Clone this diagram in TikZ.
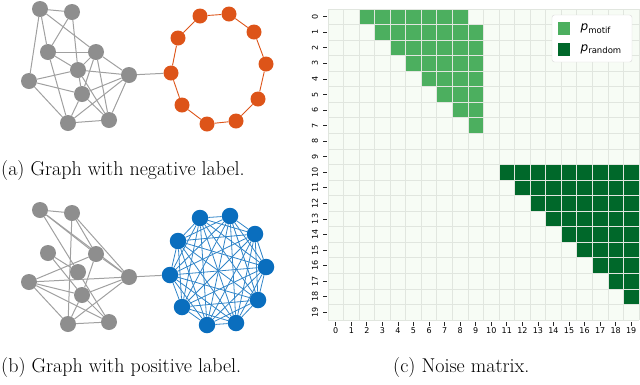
\documentclass[tikz,border=0pt]{standalone}
\usepackage{fontspec}
\newfontfamily\dejavu{DejaVu Sans}
\usetikzlibrary{positioning,backgrounds}
\definecolor{noisebg}{HTML}{F7FCF5}
\definecolor{motifgreen}{HTML}{4CAF5F}
\definecolor{randgreen}{HTML}{00682A}
\definecolor{cellline}{HTML}{E1E6DF}
\definecolor{negorange}{HTML}{DD5419}
\definecolor{posblue}{HTML}{0A6EBE}
\definecolor{nodegray}{HTML}{8E8E8E}
\definecolor{edgegray}{HTML}{A0A0A0}
\def\cs{15.55}

\begin{document}
\begin{tikzpicture}[x=1pt,y=-1pt,
 every node/.style={inner sep=0pt},
 plain/.style={circle,fill=nodegray,minimum size=16pt},
 ring/.style={circle,fill=negorange,minimum size=15pt},
 clique/.style={circle,fill=posblue,minimum size=16.5pt},
 gedge/.style={draw=edgegray,line width=1pt},
 redge/.style={draw=negorange,line width=0.9pt},
 bedge/.style={draw=posblue!85,line width=0.8pt},
 tick/.style={line width=0.8pt,black!85},
 ticklabel/.style={font=\dejavu\fontsize{8}{8}\selectfont},
 caption/.style={font=\fontsize{20}{24}\selectfont}]
 \useasboundingbox (0,0) rectangle (640,384);

 % (a) negative graph
 \foreach \n/\x/\y in {1/40/9,2/72/12,3/48/52,4/96/52,5/78/70,6/29/81,7/129/75,8/82/94,9/68/123,10/109/120}
  \node[plain] (a\n) at (\x,\y) {};
 \foreach \n/\x/\y in {1/171/73,2/178/38,3/200/16,4/229/14,5/254/32,6/266/64,7/258/99,8/236/121,9/207/124,10/182/105}
  \node[ring] (o\n) at (\x,\y) {};
 \begin{pgfonlayer}{background}
 \foreach \u/\v in {1/2,1/6,1/3,1/4,2/3,2/5,3/4,3/5,3/9,4/5,4/7,4/8,4/10,5/6,5/7,5/8,5/10,6/8,6/9,7/8,7/9,7/10,8/9,8/10,9/10}
  \draw[gedge] (a\u) -- (a\v);
 \foreach \u/\v in {1/2,2/3,3/4,4/5,5/6,6/7,7/8,8/9,9/10,10/1}
  \draw[redge] (o\u) -- (o\v);
 \draw[gedge] (a7) -- (o1);
 \end{pgfonlayer}

 % (b) positive graph
 \foreach \n/\x/\y in {1/40/210,2/72/213,3/48/253,4/96/254,5/78/272,6/29/282,7/129/277,8/82/295,9/68/324,10/109/322}
  \node[plain] (h\n) at (\x,\y) {};
 \foreach \n/\x/\y in {1/170/275,2/178/241,3/200/218,4/230/216,5/255/234,6/266/267,7/258/300,8/236/323,9/207/325,10/182/307}
  \node[clique] (b\n) at (\x,\y) {};
 \begin{pgfonlayer}{background}
 \foreach \u/\v in {1/2,1/4,1/7,1/5,2/4,2/7,2/9,3/5,3/8,4/6,4/7,4/8,5/10,6/7,6/8,6/9,6/10,7/8,7/9,8/9,8/10,9/10}
  \draw[gedge] (h\u) -- (h\v);
 \foreach \u in {1,...,9}{
  \pgfmathtruncatemacro\w{\u+1}
  \foreach \v in {\w,...,10}
   \draw[bedge] (b\u) -- (b\v);
 }
 \draw[gedge] (h7) -- (b1);
 \end{pgfonlayer}

 % (c) noise matrix
 \fill[noisebg] (328,9) rectangle (639,320);
 \foreach \r in {0,...,7}{
  \pgfmathtruncatemacro\first{\r+2}
  \pgfmathtruncatemacro\last{\r==0 ? 8 : 9}
  \foreach \c in {\first,...,\last}
   \fill[motifgreen] ({328+\c*\cs},{9+\r*\cs}) rectangle ++(\cs,\cs);
 }
 \foreach \r in {10,...,18}{
  \pgfmathtruncatemacro\first{\r+1}
  \foreach \c in {\first,...,19}
   \fill[randgreen] ({328+\c*\cs},{9+\r*\cs}) rectangle ++(\cs,\cs);
 }
 \foreach \i in {0,...,20}{
  \draw[cellline,line width=0.8pt] ({328+\i*\cs},9) -- ({328+\i*\cs},320);
  \draw[cellline,line width=0.8pt] (328,{9+\i*\cs}) -- (639,{9+\i*\cs});
 }
 \foreach \i in {0,...,19}{
  \draw[tick] (323,{9+(\i+.5)*\cs}) -- (327,{9+(\i+.5)*\cs});
  \node[ticklabel,rotate=90] (yl\i) at (315,{9+(\i+.5)*\cs}) {\i};
  \draw[tick] ({328+(\i+.5)*\cs},322) -- ({328+(\i+.5)*\cs},326);
  \node[ticklabel] (xl\i) at ({328+(\i+.5)*\cs},331) {\i};
 }

 % legend
 \node[draw=black!15,fill=white,rounded corners=2.5pt,minimum width=80pt,minimum height=47pt] (legend) at (592,38.5) {};
 \node[fill=motifgreen,minimum width=12.5pt,minimum height=13pt] (pm) at (564,28.5) {};
 \node[fill=randgreen,minimum width=12.5pt,minimum height=13pt] (pr) at (564,49) {};
 \node[right=10pt of pm,font=\dejavu\fontsize{12}{12}\selectfont] (lm)
  {{\itshape p}\raisebox{-2.5pt}{\fontsize{8.5}{8.5}\selectfont motif}};
 \node[right=10pt of pr,font=\dejavu\fontsize{12}{12}\selectfont] (lr)
  {{\itshape p}\raisebox{-2.5pt}{\fontsize{8.5}{8.5}\selectfont random}};

 % captions
 \node[caption,anchor=west] (capa) at (1,171) {(a) Graph with negative label.};
 \node[caption,anchor=west] (capb) at (1,368) {(b) Graph with positive label.};
 \node[caption,anchor=west] (capc) at (393,368) {(c) Noise matrix.};
\end{tikzpicture}
\end{document}
